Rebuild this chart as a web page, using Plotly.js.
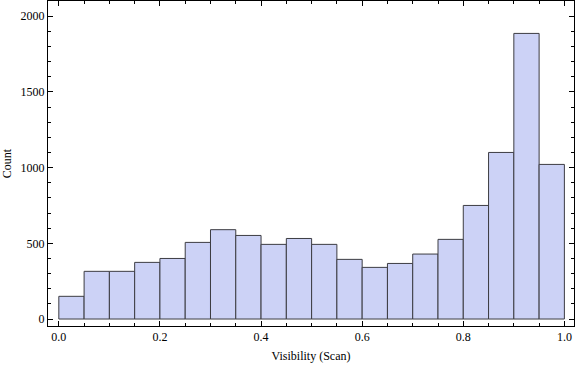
<!DOCTYPE html>
<html>
<head>
<meta charset="utf-8">
<script src="https://cdn.plot.ly/plotly-3.0.1.min.js"></script>
<style>html,body{margin:0;padding:0;background:#fff;}#chart{width:576px;height:366px;}</style>
</head>
<body>
<div id="chart"></div>
<script>
var binLeft = [0.00,0.05,0.10,0.15,0.20,0.25,0.30,0.35,0.40,0.45,0.50,0.55,0.60,0.65,0.70,0.75,0.80,0.85,0.90,0.95];
var counts = [150,315,315,374,400,506,590,552,493,532,493,394,341,367,429,526,750,1100,1886,1021];
var binWidth = 0.05;
var xTickVals = [0,0.2,0.4,0.6,0.8,1.0];
var xTickText = ["0.0","0.2","0.4","0.6","0.8","1.0"];
var yTickVals = [0,500,1000,1500,2000];
var yTickText = ["0","500","1000","1500","2000"];

var trace = {
  type: 'bar',
  x: binLeft,
  y: counts,
  width: binLeft.map(function(){return binWidth;}),
  offset: 0,
  marker: {color: 'rgb(204,210,246)', line: {color: 'rgb(60,60,66)', width: 1}},
  hoverinfo: 'x+y'
};

var axisFont = {family: '"Liberation Serif", "Times New Roman", serif', size: 12, color: '#000'};
var layout = {
  width: 576, height: 366,
  margin: {l: 48, r: 2, t: 1, b: 40},
  paper_bgcolor: '#fff', plot_bgcolor: '#fff',
  showlegend: false,
  bargap: 0,
  font: axisFont,
  xaxis: {
    range: [-0.0214, 1.019],
    tickvals: xTickVals, ticktext: xTickText,
    ticks: 'inside', ticklen: 5, tickcolor: '#000', tickwidth: 1,
    minor: {dtick: 0.05, tick0: 0, ticks: 'inside', ticklen: 3, tickcolor: '#000', tickwidth: 1},
    showline: true, linecolor: '#000', linewidth: 1, mirror: 'allticks',
    showgrid: false, zeroline: false,
    tickfont: axisFont,
    title: {text: 'Visibility (Scan)', font: axisFont, standoff: 8}
  },
  yaxis: {
    range: [-46, 2100],
    tickvals: yTickVals, ticktext: yTickText,
    ticks: 'inside', ticklen: 5, tickcolor: '#000', tickwidth: 1,
    minor: {dtick: 100, tick0: 0, ticks: 'inside', ticklen: 3, tickcolor: '#000', tickwidth: 1},
    showline: true, linecolor: '#000', linewidth: 1, mirror: 'allticks',
    showgrid: false, zeroline: false,
    tickfont: axisFont,
    title: {text: 'Count', font: axisFont, standoff: 6}
  }
};
Plotly.newPlot('chart', [trace], layout, {displayModeBar: false, staticPlot: true});
</script>
</body>
</html>
